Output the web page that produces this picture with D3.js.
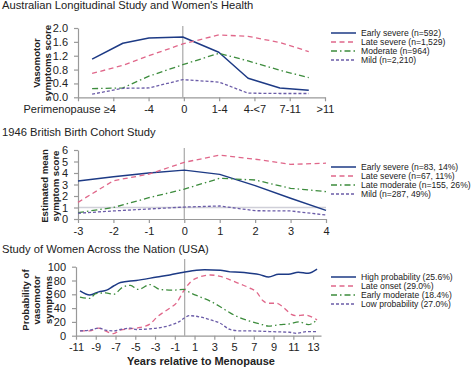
<!DOCTYPE html>
<html><head><meta charset="utf-8">
<script src="https://cdn.jsdelivr.net/npm/d3@7"></script>
<style>
body{margin:0;background:#fff}
svg{display:block;font-family:Arial,"Liberation Sans",sans-serif}
</style></head><body><svg id="c" width="474" height="367"></svg>
<script>
// ---------- Panel 1: ALSWH ----------
const alsTitle = "Australian Longitudinal Study and Women's Health";
const alsTickLabels = ["Perimenopause \u22654", "-4", "0", "1-4", "4-<7", "7-11", ">11"];
const alsX = [0.40, 1.27, 2.01, 2.97, 3.99, 4.82, 5.72, 6.54];
const alsEarlySevere = [1.10, 1.56, 1.71, 1.74, 1.30, 0.55, 0.27, 0.20];
const alsLateSevere  = [0.69, 0.92, 1.20, 1.54, 1.80, 1.76, 1.58, 1.32];
const alsModerate    = [0.25, 0.27, 0.61, 0.94, 1.27, 1.05, 0.78, 0.57];
const alsMild        = [0.09, 0.26, 0.27, 0.51, 0.44, 0.12, 0.11, 0.11];
const alsLegend = ["Early severe (n=592)", "Late severe (n=1,529)", "Moderate (n=964)", "Mild (n=2,210)"];
const alsYTicks = [0, 0.4, 0.8, 1.2, 1.6, 2.0];

// ---------- Panel 2: 1946 British Birth Cohort ----------
const nshdTitle = "1946 British Birth Cohort Study";
const nshdX = [-3, -2, -1, 0, 1, 2, 3, 4];
const nshdEarlySevere  = [3.30, 3.68, 4.00, 4.25, 3.88, 2.90, 1.80, 0.75];
const nshdLateSevere   = [1.45, 3.33, 3.90, 4.93, 5.55, 5.20, 4.75, 4.85];
const nshdLateModerate = [0.55, 1.00, 1.85, 2.60, 3.54, 3.39, 2.67, 2.38];
const nshdMild         = [0.50, 0.70, 0.87, 1.04, 1.13, 0.72, 0.70, 0.35];
const nshdLegend = ["Early severe (n=83, 14%)", "Late severe (n=67, 11%)", "Late moderate (n=155, 26%)", "Mild (n=287, 49%)"];
const nshdYTicks = [0, 1, 2, 3, 4, 5, 6];

// ---------- Panel 3: SWAN ----------
const swanTitle = "Study of Women Across the Nation (USA)";
const swanHighYears = [-10.6, -9.6, -8.7, -7.9, -7.2, -6.5, -4.9, -2.8, -1.5, -0.1, 1.2, 2.0, 3.6, 4.6, 5.6, 6.6, 7.6, 8.5, 9.5, 10.5, 11.5, 12.5, 13.4];
const swanHigh      = [65, 59, 63.5, 66, 72, 77, 80, 85, 88, 92, 95, 95.5, 95, 92.5, 92, 90.5, 88.5, 85, 89, 89, 92, 90.5, 96.5];
const swanLateYears = [-10.6, -9.6, -8.7, -8.2, -7.2, -6.5, -5.5, -4.5, -3.5, -2.8, -1.5, -0.8, -0.1, 0.6, 1.5, 2.6, 3.6, 4.6, 5.6, 6.6, 7.3, 7.9, 8.5, 9.3, 10.0, 10.8, 11.3, 12.1, 13.4];
const swanLate      = [7, 7, 11, 8, 3, 8, 10, 12, 17, 27, 40, 48, 65, 78, 85, 88, 86, 81, 75, 69, 63, 51, 47, 47, 41, 31, 29, 30, 23];
const swanEarlyYears= [-10.6, -9.6, -9.0, -8.0, -7.2, -6.3, -5.5, -4.7, -3.5, -2.5, -1.2, -0.1, 0.6, 1.6, 2.6, 3.6, 4.6, 5.6, 6.6, 7.6, 8.5, 9.6, 10.6, 11.6, 12.5, 13.4];
const swanEarly     = [56, 54, 61, 62, 60, 70, 73, 67, 74, 67, 66, 67, 62, 56, 50, 42, 33, 26, 21, 17, 14, 16, 17, 20, 16, 23];
const swanLowYears  = [-10.6, -9.6, -8.7, -8.0, -7.2, -6.5, -5.5, -4.9, -3.5, -2.8, -1.5, -0.6, 0.0, 0.5, 1.6, 2.6, 3.6, 4.6, 5.6, 6.6, 7.6, 8.6, 9.6, 10.6, 11.3, 12.4, 13.4];
const swanLow       = [7, 8, 11, 8, 7, 9, 11, 9, 10, 11, 15, 20, 26, 29, 27, 23, 18, 9, 7, 7, 6.5, 6, 5.5, 5, 3.5, 6, 6];
const swanLegend = ["High probability (25.6%)", "Late onset (29.0%)", "Early moderate (18.4%)", "Low probability (27.0%)"];
const swanYTicks = [0, 20, 40, 60, 80, 100];
const swanXTicks = [-11, -9, -7, -5, -3, -1, 1, 3, 5, 7, 9, 11, 13];
const swanXTitle = "Years relative to Menopause";

// ---------- styles ----------
const styles = [
  {color: "#1d3a85", dash: null, w: 1.5},
  {color: "#e0678a", dash: "5,3.5", w: 1.3},
  {color: "#3d8c3d", dash: "6,3,1.5,3", w: 1.3},
  {color: "#6b5ca8", dash: "3,2", w: 1.3}
];

const svg = d3.select("#c");
const plain = d => String(d);

function drawPanel(o) {
  const g = svg.append("g");
  g.append("text").attr("x", 2).attr("y", o.titleY).attr("font-size", 11.2).attr("fill", "#222").text(o.title);
  if (o.refY !== undefined) {
    g.append("line").attr("x1", o.x.range()[0]).attr("x2", o.x.range()[1])
      .attr("y1", o.y(o.refY)).attr("y2", o.y(o.refY)).attr("stroke", "#cfcfd8").attr("stroke-width", 1.5);
  }
  g.append("line").attr("x1", o.x(o.zeroX)).attr("x2", o.x(o.zeroX))
    .attr("y1", o.zeroTop).attr("y2", o.y.range()[0]).attr("stroke", "#a8a8a8").attr("stroke-width", 1.2);
  const yAx = g.append("g").attr("transform", `translate(${o.x.range()[0]},0)`)
    .call(d3.axisLeft(o.y).tickValues(o.yTicks).tickFormat(o.yFmt).tickSize(4).tickSizeOuter(0).tickPadding(6));
  const xAx = g.append("g").attr("transform", `translate(0,${o.y.range()[0]})`)
    .call(d3.axisBottom(o.x).tickValues(o.xTicks).tickFormat(o.xFmt).tickSize(4).tickSizeOuter(0).tickPadding(4));
  [yAx, xAx].forEach(a => {
    a.select(".domain").attr("stroke", "#999").attr("stroke-width", 1.2);
    a.selectAll(".tick line").attr("stroke", "#999").attr("stroke-width", 1.2);
    a.selectAll("text").attr("font-size", 11).attr("fill", "#222").attr("font-family", "Arial,'Liberation Sans',sans-serif");
  });
  if (o.afterX) o.afterX(xAx);
  const yt = g.append("text").attr("transform", `translate(${o.ylabX},${o.ylabY}) rotate(-90)`)
    .attr("text-anchor", "middle").attr("font-size", 9.6).attr("font-weight", "bold").attr("fill", "#222");
  o.ylab.forEach((s, i) => yt.append("tspan").attr("x", 0).attr("y", (i - (o.ylab.length - 1) / 2) * 11.5).attr("dy", "0.35em").text(s));
  o.series.forEach((s, i) => {
    const st = styles[i];
    const pts = s.xs.map((xv, j) => [xv, s.ys[j]]);
    g.append("path").datum(pts)
      .attr("d", d3.line().x(d => o.x(d[0])).y(d => o.y(d[1])).curve(o.curve || d3.curveLinear))
      .attr("fill", "none").attr("stroke", st.color).attr("stroke-width", st.w)
      .attr("stroke-dasharray", st.dash).attr("stroke-linejoin", "round");
  });
  o.legend.forEach((t, i) => {
    const st = styles[i];
    const yy = o.legY + i * 9;
    g.append("line").attr("x1", 331).attr("x2", 356).attr("y1", yy).attr("y2", yy)
      .attr("stroke", st.color).attr("stroke-width", st.w).attr("stroke-dasharray", st.dash);
    g.append("text").attr("x", 361).attr("y", yy).attr("dy", "0.35em").attr("font-size", 8.6).attr("fill", "#222").text(t);
  });
}

drawPanel({
  title: alsTitle, titleY: 9,
  x: d3.scaleLinear().domain([0, 7]).range([78, 325]),
  y: d3.scaleLinear().domain([0, 2]).range([97.3, 28]),
  yTicks: alsYTicks, yFmt: d3.format(".1f"),
  xTicks: [0, 1, 2, 3, 4, 5, 6, 7], xFmt: (d) => d === 0 ? "" : alsTickLabels[d - 1],
  afterX: (a) => a.selectAll(".tick text").filter(d => d === 1).attr("text-anchor", "end").attr("dx", 2),
  zeroX: 2.97, zeroTop: 26,
  ylab: ["Vasomotor", "symptoms score"], ylabX: 42, ylabY: 63,
  series: [
    {xs: alsX, ys: alsEarlySevere}, {xs: alsX, ys: alsLateSevere},
    {xs: alsX, ys: alsModerate}, {xs: alsX, ys: alsMild}
  ],
  curve: d3.curveLinear,
  legend: alsLegend, legY: 33
});

drawPanel({
  title: nshdTitle, titleY: 136,
  x: d3.scaleLinear().domain([-3, 4]).range([78, 326]),
  y: d3.scaleLinear().domain([0, 6]).range([219, 150]),
  yTicks: nshdYTicks, yFmt: plain,
  xTicks: nshdX, xFmt: plain,
  zeroX: 0, zeroTop: 148, refY: 1,
  ylab: ["Estimated mean", "symptom score"], ylabX: 50, ylabY: 186,
  series: [
    {xs: nshdX, ys: nshdEarlySevere}, {xs: nshdX, ys: nshdLateSevere},
    {xs: nshdX, ys: nshdLateModerate}, {xs: nshdX, ys: nshdMild}
  ],
  curve: d3.curveLinear,
  legend: nshdLegend, legY: 167
});

drawPanel({
  title: swanTitle, titleY: 253,
  x: d3.scaleLinear().domain([-11, 13.8]).range([76, 321]),
  y: d3.scaleLinear().domain([0, 100]).range([335.7, 266.7]),
  yTicks: swanYTicks, yFmt: plain,
  xTicks: swanXTicks, xFmt: plain,
  zeroX: 0, zeroTop: 259,
  ylab: ["Probability of", "vasomotor", "symptoms"], ylabX: 37, ylabY: 300,
  series: [
    {xs: swanHighYears, ys: swanHigh}, {xs: swanLateYears, ys: swanLate},
    {xs: swanEarlyYears, ys: swanEarly}, {xs: swanLowYears, ys: swanLow}
  ],
  curve: d3.curveMonotoneX,
  legend: swanLegend, legY: 277
});

svg.append("text").attr("x", 201).attr("y", 365).attr("text-anchor", "middle")
  .attr("font-size", 11).attr("font-weight", "bold").attr("fill", "#222").text(swanXTitle);
</script></body></html>
